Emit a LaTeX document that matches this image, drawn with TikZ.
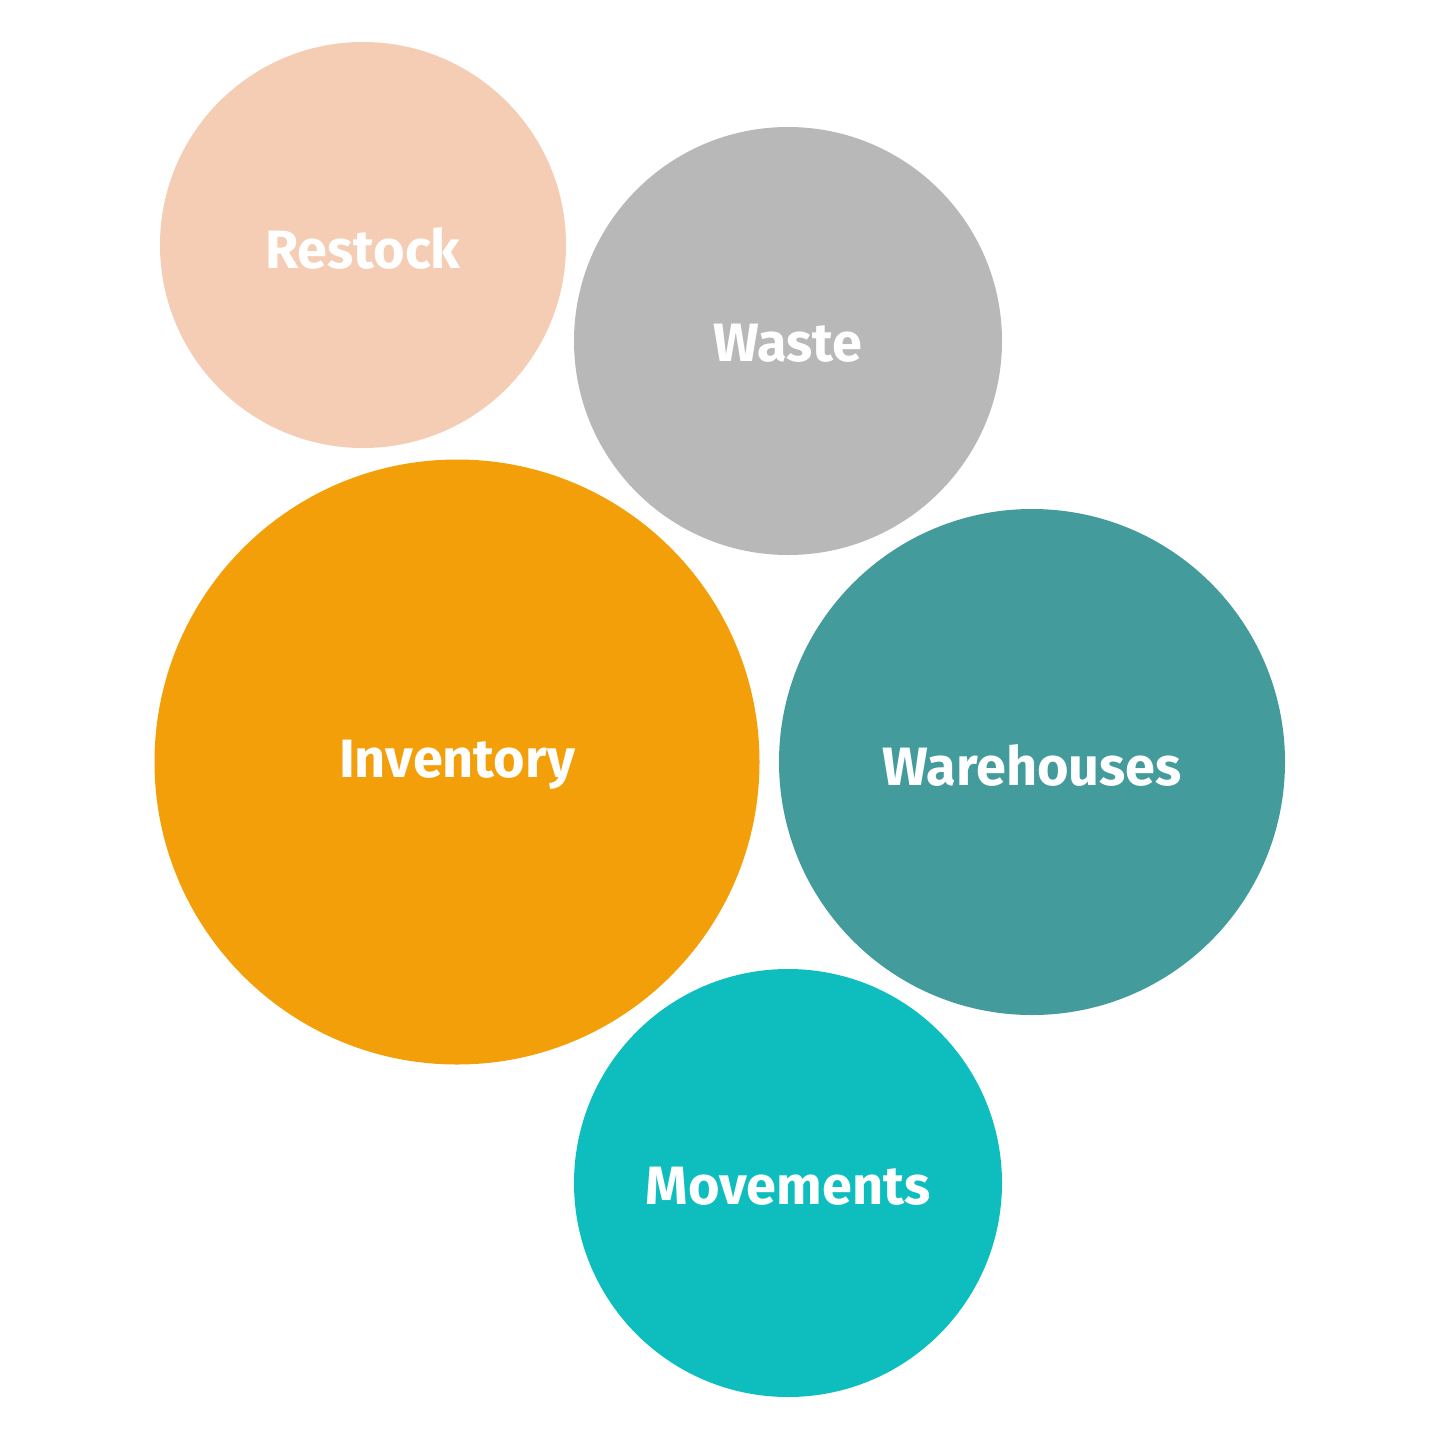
\documentclass[tikz,border=0pt]{standalone}
\usepackage{fontspec}
\setmainfont{Fira Sans}
\begin{document}
\begin{tikzpicture}[x=1pt,y=-1pt,
  bub/.style={circle,inner sep=0pt,minimum size=#1,draw=none},
  lab/.style={text=white,font=\fontsize{54}{60}\selectfont\bfseries}]
\useasboundingbox (0,0) rectangle (1440,1440);
\definecolor{cR}{HTML}{F5CCB4}
\definecolor{cW}{HTML}{B8B8B8}
\definecolor{cI}{HTML}{F39F09}
\definecolor{cH}{HTML}{439B9C}
\definecolor{cM}{HTML}{0EBEBE}
\node[bub=406pt,fill=cR] (r) at (363,245) {};
\node[bub=428pt,fill=cW] (w) at (788,341) {};
\node[bub=605pt,fill=cI] (i) at (457,762) {};
\node[bub=506pt,fill=cH] (h) at (1032,762) {};
\node[bub=428pt,fill=cM] (m) at (788,1183) {};
\node[lab] (rt) at (363,248) {Restock};
\node[lab] (wt) at (788,343) {Waste};
\node[lab] (it) at (457,765) {Inventory};
\node[lab] (ht) at (1032,765) {Warehouses};
\node[lab] (mt) at (788,1186) {Movements};
\end{tikzpicture}
\end{document}
